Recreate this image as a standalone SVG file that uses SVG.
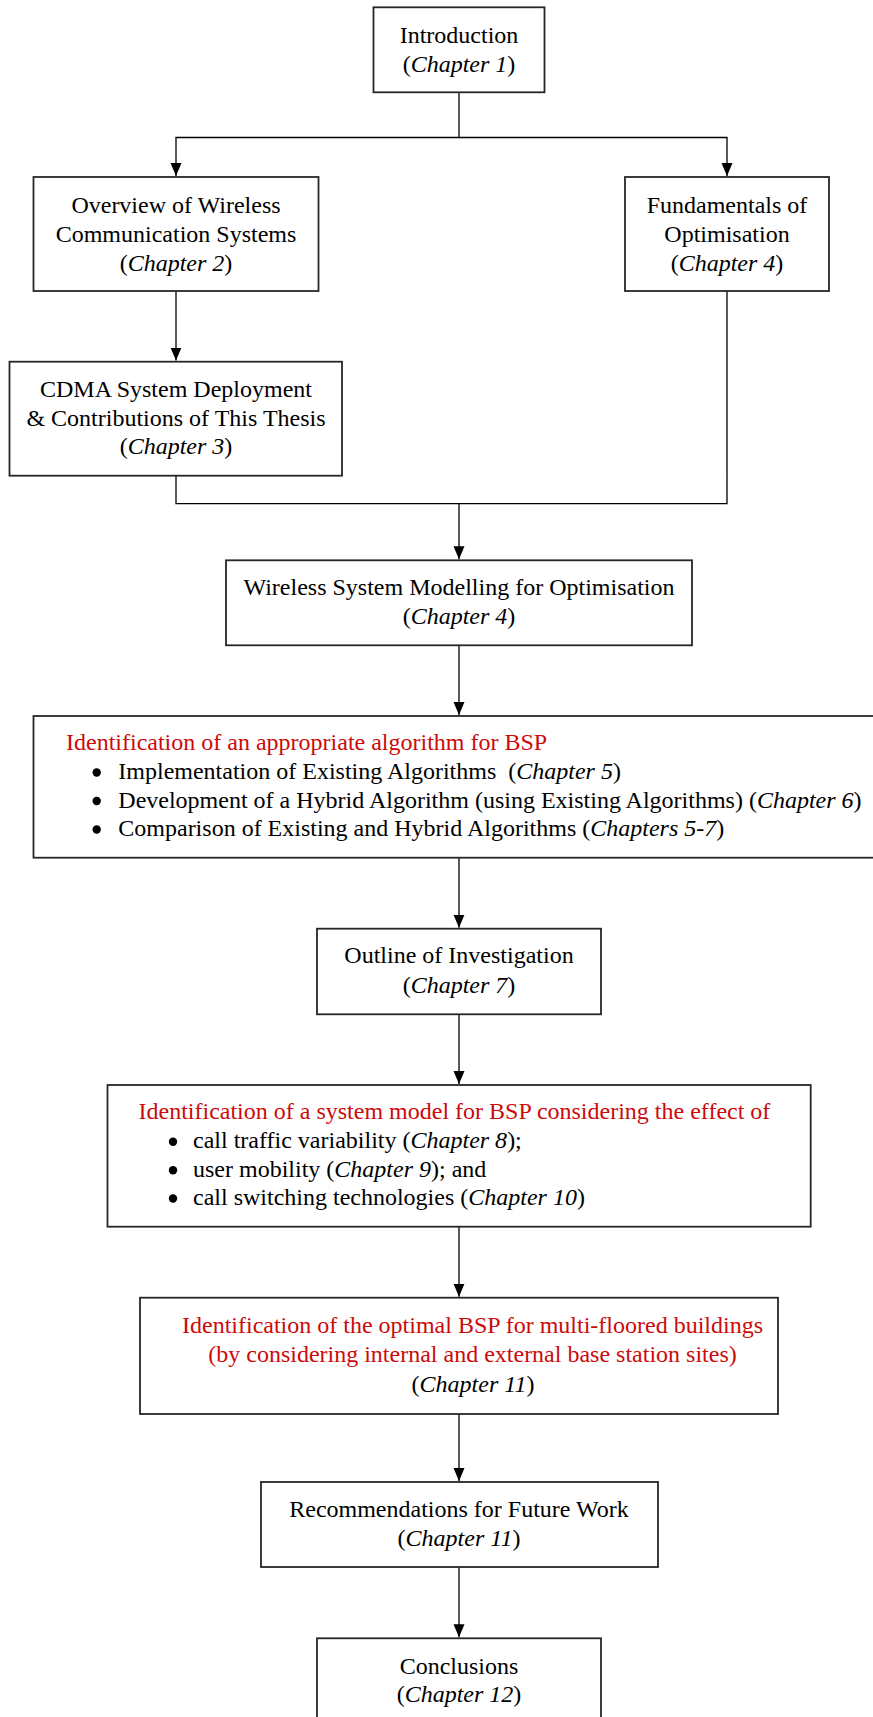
<svg xmlns="http://www.w3.org/2000/svg" width="873" height="1717" viewBox="0 0 873 1717">
  <style>
    .box { fill: #ffffff; stroke: #262626; stroke-width: 1.8; }
    .wire { fill: none; stroke: #000000; stroke-width: 1.3; }
    text { font-family: "Liberation Serif", "Times New Roman", serif; font-size: 24px; fill: #000000; }
    .c { text-anchor: middle; }
    .red { fill: #cc0a0a; }
    .it { font-style: italic; }
    .dot { fill: #000000; }
  </style>
  <defs>
    <marker id="arrow" markerUnits="userSpaceOnUse" markerWidth="12" markerHeight="14" viewBox="0 0 12 14" refX="6" refY="13" orient="auto-start-reverse">
      <path d="M0.5,0 L11.5,0 L6,13 Z" fill="#000000" transform="rotate(-90 6 7) translate(0 0)"/>
    </marker>
    <marker id="head" markerUnits="userSpaceOnUse" markerWidth="14" markerHeight="12" viewBox="0 0 14 12" refX="13" refY="6" orient="auto">
      <path d="M0,0.5 L13,6 L0,11.5 Z" fill="#000000"/>
    </marker>
  </defs>

  <!-- connectors -->
  <g id="connectors">
    <path class="wire" d="M459,92.5 V137.5 H176 V176" marker-end="url(#head)"/>
    <path class="wire" d="M459,137.5 H727 V176" marker-end="url(#head)"/>
    <path class="wire" d="M176,291 V360.5" marker-end="url(#head)"/>
    <path class="wire" d="M176,475.7 V503.7 H727 V291"/>
    <path class="wire" d="M459,503.7 V559.3" marker-end="url(#head)"/>
    <path class="wire" d="M459,645.3 V715" marker-end="url(#head)"/>
    <path class="wire" d="M459,857.7 V927.7" marker-end="url(#head)"/>
    <path class="wire" d="M459,1014.3 V1084" marker-end="url(#head)"/>
    <path class="wire" d="M459,1226.7 V1296.7" marker-end="url(#head)"/>
    <path class="wire" d="M459,1414 V1481" marker-end="url(#head)"/>
    <path class="wire" d="M459,1567 V1637.3" marker-end="url(#head)"/>
  </g>

  <g id="intro">
    <rect class="box" x="373.5" y="7.3" width="171" height="85"/>
    <text class="c" x="459" y="43">Introduction</text>
    <text class="c" x="459" y="72">(<tspan class="it">Chapter 1</tspan>)</text>
  </g>

  <g id="overview">
    <rect class="box" x="33.5" y="177" width="285" height="114"/>
    <text class="c" x="176" y="212.5">Overview of Wireless</text>
    <text class="c" x="176" y="241.5">Communication Systems</text>
    <text class="c" x="176" y="270.5">(<tspan class="it">Chapter 2</tspan>)</text>
  </g>

  <g id="fundamentals">
    <rect class="box" x="625" y="177" width="204" height="114"/>
    <text class="c" x="727" y="212.5">Fundamentals of</text>
    <text class="c" x="727" y="241.5">Optimisation</text>
    <text class="c" x="727" y="270.5">(<tspan class="it">Chapter 4</tspan>)</text>
  </g>

  <g id="cdma">
    <rect class="box" x="9.5" y="361.7" width="332.5" height="114"/>
    <text class="c" x="176" y="396.7">CDMA System Deployment</text>
    <text class="c" x="176" y="425.5">&amp; Contributions of This Thesis</text>
    <text class="c" x="176" y="454">(<tspan class="it">Chapter 3</tspan>)</text>
  </g>

  <g id="modelling">
    <rect class="box" x="226" y="560.3" width="466" height="85"/>
    <text class="c" x="459" y="595">Wireless System Modelling for Optimisation</text>
    <text class="c" x="459" y="624">(<tspan class="it">Chapter 4</tspan>)</text>
  </g>

  <g id="algorithm">
    <rect class="box" x="33.5" y="716" width="845" height="141.7"/>
    <text class="red" x="66" y="750">Identification of an appropriate algorithm for BSP</text>
    <circle class="dot" cx="96.7" cy="772.5" r="4.2"/>
    <text x="118.3" y="779">Implementation of Existing Algorithms &#160;(<tspan class="it">Chapter 5</tspan>)</text>
    <circle class="dot" cx="96.7" cy="801" r="4.2"/>
    <text x="118.3" y="807.5">Development of a Hybrid Algorithm (using Existing Algorithms) (<tspan class="it">Chapter 6</tspan>)</text>
    <circle class="dot" cx="96.7" cy="829.5" r="4.2"/>
    <text x="118.3" y="836">Comparison of Existing and Hybrid Algorithms (<tspan class="it">Chapters 5-7</tspan>)</text>
  </g>

  <g id="outline">
    <rect class="box" x="317" y="928.7" width="284" height="85.6"/>
    <text class="c" x="459" y="963.3">Outline of Investigation</text>
    <text class="c" x="459" y="992.5">(<tspan class="it">Chapter 7</tspan>)</text>
  </g>

  <g id="system-model">
    <rect class="box" x="107.5" y="1085" width="703.2" height="141.7"/>
    <text class="red" x="138.5" y="1119.3">Identification of a system model for BSP considering the effect of</text>
    <circle class="dot" cx="173" cy="1141.8" r="4.2"/>
    <text x="193" y="1148.3">call traffic variability (<tspan class="it">Chapter 8</tspan>);</text>
    <circle class="dot" cx="173" cy="1170.2" r="4.2"/>
    <text x="193" y="1176.7">user mobility (<tspan class="it">Chapter 9</tspan>); and</text>
    <circle class="dot" cx="173" cy="1198.5" r="4.2"/>
    <text x="193" y="1205">call switching technologies (<tspan class="it">Chapter 10</tspan>)</text>
  </g>

  <g id="optimal-bsp">
    <rect class="box" x="140" y="1297.7" width="638" height="116.3"/>
    <text class="c red" x="472.5" y="1333">Identification of the optimal BSP for multi-floored buildings</text>
    <text class="c red" x="472.5" y="1362">(by considering internal and external base station sites)</text>
    <text class="c" x="473" y="1391.5">(<tspan class="it">Chapter 11</tspan>)</text>
  </g>

  <g id="future-work">
    <rect class="box" x="261" y="1482" width="397" height="85"/>
    <text class="c" x="459" y="1516.7">Recommendations for Future Work</text>
    <text class="c" x="459" y="1546">(<tspan class="it">Chapter 11</tspan>)</text>
  </g>

  <g id="conclusions">
    <rect class="box" x="317" y="1638.3" width="284" height="100"/>
    <text class="c" x="459" y="1674">Conclusions</text>
    <text class="c" x="459" y="1702">(<tspan class="it">Chapter 12</tspan>)</text>
  </g>
</svg>
